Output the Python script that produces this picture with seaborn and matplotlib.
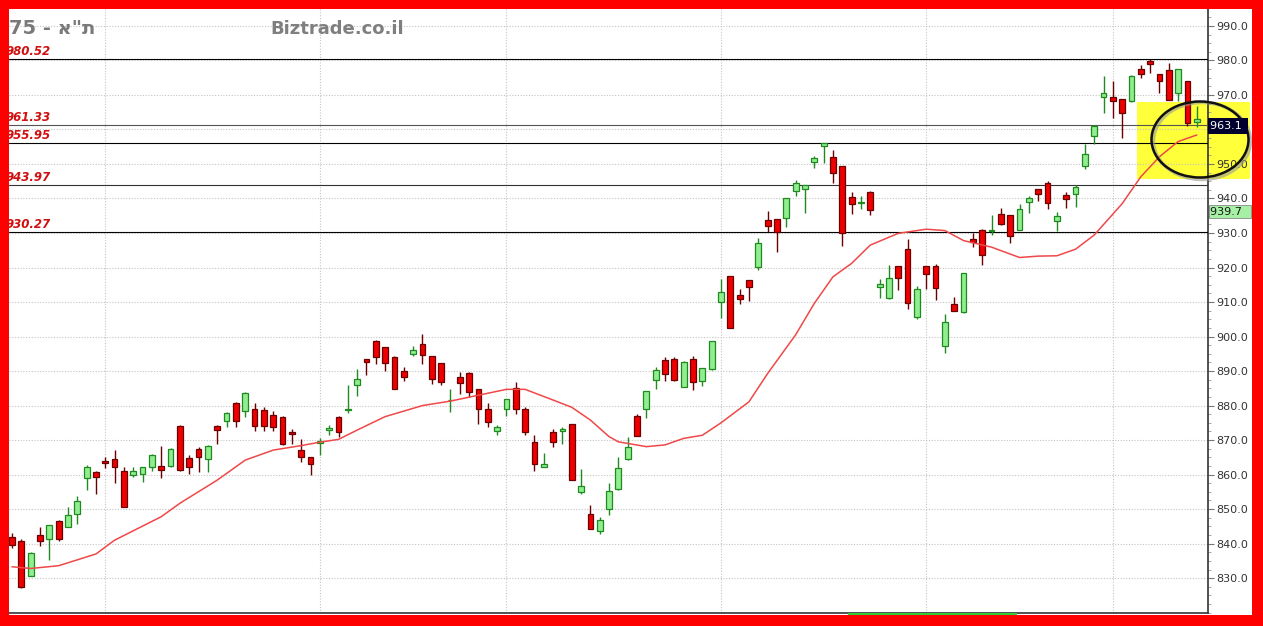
import numpy as np
import matplotlib
matplotlib.use("Agg")
import matplotlib.pyplot as plt
import matplotlib.transforms as mtransforms
from matplotlib.patches import Rectangle, Ellipse
from matplotlib.ticker import MultipleLocator, FixedLocator, FixedFormatter
import seaborn as sns

# daily candles, TA-75 index
opens = [841.8, 840.7, 830.7, 842.4, 841.2, 846.7, 844.9, 848.5, 858.9, 860.8,
         863.9, 864.6, 861.1, 859.8, 860.3, 862.3, 862.5, 862.5, 874.1, 864.9,
         867.5, 864.4, 874.1, 875.6, 880.6, 878.4, 879.1, 878.7, 877.2, 876.8,
         872.2, 867.1, 865.0, 869.2, 872.9, 876.8, 878.7, 885.9, 893.4, 898.8,
         896.9, 894.2, 890.1, 894.9, 897.7, 894.3, 892.2, 881.5, 888.2, 889.5,
         884.8, 879.1, 872.6, 879.1, 885.2, 878.9, 869.3, 862.3, 872.4, 872.6,
         874.6, 855.0, 848.6, 843.6, 849.9, 855.8, 864.5, 877.0, 878.9, 887.4,
         893.2, 893.4, 885.5, 893.5, 887.1, 890.6, 909.9, 917.5, 912.0, 916.4,
         920.2, 933.8, 934.0, 934.3, 942.2, 942.7, 950.7, 955.2, 952.0, 949.4,
         940.5, 938.8, 942.0, 914.4, 911.1, 920.4, 925.3, 905.7, 920.4, 920.4,
         897.3, 909.3, 907.0, 928.3, 931.0, 930.6, 935.5, 935.2, 930.9, 939.1,
         942.7, 944.6, 933.5, 941.0, 941.3, 949.5, 958.1, 969.5, 969.5, 968.8,
         968.1, 977.4, 979.9, 976.1, 977.2, 970.7, 973.9, 962.2]
highs = [843.0, 841.2, 837.6, 844.9, 845.5, 846.9, 850.5, 853.8, 862.8, 861.0,
         865.0, 867.1, 862.3, 862.3, 862.3, 866.0, 868.3, 867.6, 874.3, 865.7,
         868.0, 868.6, 874.3, 878.1, 881.0, 884.0, 880.6, 879.5, 878.5, 876.9,
         873.1, 870.2, 865.2, 870.5, 874.5, 877.0, 886.1, 890.6, 893.5, 898.9,
         897.0, 894.3, 891.2, 897.2, 900.7, 894.4, 892.3, 884.7, 889.8, 889.6,
         884.9, 880.6, 874.5, 882.0, 886.7, 879.6, 871.4, 866.4, 873.1, 873.9,
         874.7, 861.6, 851.2, 847.8, 857.6, 865.0, 870.8, 877.5, 884.2, 891.2,
         894.0, 894.0, 892.8, 894.5, 890.9, 898.8, 916.6, 917.6, 913.7, 916.5,
         928.5, 936.4, 934.1, 940.1, 945.4, 944.0, 952.3, 956.1, 954.1, 949.5,
         942.0, 940.7, 942.1, 916.6, 920.7, 920.5, 928.2, 914.7, 920.5, 920.9,
         906.5, 911.4, 918.4, 929.9, 931.1, 935.2, 937.3, 935.3, 938.3, 940.8,
         942.8, 945.1, 936.2, 941.8, 943.9, 955.8, 961.2, 975.5, 974.1, 968.9,
         975.7, 978.7, 980.3, 976.2, 979.2, 977.5, 974.0, 966.8]
lows = [838.6, 827.0, 830.5, 839.4, 835.4, 840.8, 844.7, 845.6, 855.5, 854.3,
        861.8, 857.5, 850.5, 859.2, 857.9, 861.0, 858.9, 862.3, 861.0, 860.1,
        860.8, 860.8, 868.8, 873.7, 873.7, 876.8, 872.7, 872.7, 872.7, 868.7,
        868.8, 863.7, 859.9, 865.7, 871.4, 871.0, 877.9, 882.8, 888.8, 892.0,
        890.1, 884.7, 887.2, 894.3, 891.9, 886.2, 886.0, 878.2, 883.3, 882.4,
        874.8, 873.7, 871.4, 877.0, 877.5, 871.4, 861.0, 862.1, 867.9, 869.0,
        858.3, 854.5, 844.1, 842.9, 848.3, 855.5, 864.3, 871.2, 876.3, 884.8,
        887.1, 887.2, 885.3, 884.5, 885.6, 890.4, 905.3, 902.5, 909.3, 910.4,
        919.3, 930.4, 924.4, 931.7, 940.7, 935.9, 948.9, 950.2, 944.4, 926.2,
        935.5, 936.9, 935.2, 911.1, 911.0, 913.5, 907.9, 905.0, 913.7, 910.6,
        895.1, 907.4, 906.9, 925.9, 920.7, 929.4, 932.4, 927.2, 930.8, 935.7,
        939.4, 936.9, 930.7, 937.2, 937.5, 948.6, 955.8, 964.9, 963.4, 957.4,
        968.0, 974.8, 976.5, 970.7, 968.5, 968.1, 961.0, 960.8]
closes = [839.6, 827.3, 837.4, 840.9, 845.3, 841.4, 848.3, 852.4, 862.1, 859.4,
          863.4, 862.3, 850.7, 861.0, 862.1, 865.7, 861.3, 867.3, 861.3, 862.3,
          865.2, 868.3, 872.9, 877.9, 875.6, 883.6, 874.1, 874.1, 873.7, 869.0,
          871.7, 865.0, 863.2, 869.8, 873.4, 872.2, 879.1, 887.6, 892.7, 894.0,
          892.2, 884.8, 888.3, 896.1, 894.6, 887.8, 886.7, 881.7, 886.4, 884.0,
          879.1, 875.1, 873.7, 881.9, 878.9, 872.4, 863.0, 863.0, 869.3, 873.1,
          858.4, 856.8, 844.2, 846.8, 855.3, 861.8, 867.9, 871.3, 884.2, 890.3,
          889.1, 887.4, 892.7, 886.9, 890.8, 898.7, 912.8, 902.6, 910.9, 914.3,
          927.0, 932.0, 930.4, 940.0, 944.6, 943.9, 951.6, 956.0, 947.3, 930.1,
          938.3, 939.1, 936.7, 915.2, 916.9, 916.9, 909.6, 913.7, 918.1, 914.0,
          904.3, 907.5, 918.3, 927.5, 923.6, 931.0, 932.5, 929.2, 936.9, 940.0,
          941.3, 938.6, 934.9, 939.8, 943.4, 952.9, 961.1, 970.7, 968.3, 964.7,
          975.6, 976.1, 978.9, 974.1, 968.6, 977.4, 961.8, 963.0]

# moving average, sampled at candle positions
ma_idx = [0, 2, 5, 9, 11, 16, 18, 22, 25, 28, 31, 33, 35, 37, 40, 44, 47, 50,
          53, 55, 58, 60, 62, 64, 65, 68, 70, 72, 74, 76, 79, 81, 84, 86, 88,
          90, 92, 95, 98, 100, 102, 105, 108, 110, 112, 114, 116, 119, 121,
          123, 125, 127]
ma_val = [833.3, 832.8, 833.6, 837.0, 841.0, 847.8, 851.7, 858.4, 864.2, 867.1,
          868.4, 869.4, 870.2, 872.9, 876.8, 880.0, 881.3, 883.0, 884.7, 884.7,
          881.6, 879.5, 875.8, 871.0, 869.5, 868.1, 868.6, 870.5, 871.4, 875.0,
          881.1, 889.3, 900.5, 909.6, 917.3, 921.2, 926.5, 929.9, 931.1, 930.7,
          927.8, 925.9, 922.9, 923.3, 923.4, 925.3, 929.4, 938.5, 946.3, 952.1,
          956.5, 958.4]

levels = [980.52, 961.33, 955.95, 943.97, 930.27]
level_colors = ["#000000", "#555555", "#000000", "#333333", "#000000"]
y_ticks = [830, 840, 850, 860, 870, 880, 890, 900, 910, 920, 930, 940, 950, 960, 970, 980, 990]
y_tick_labels = ["830.0", "840.0", "850.0", "860.0", "870.0", "880.0", "890.0", "900.0",
                 "910.0", "920.0", "930.0", "940.0", "950.0", "", "970.0", "980.0", "990.0"]
month_ticks = [10, 33, 53, 76, 98, 118]
last_price = 963.1
prev_price = 939.7

sns.set_style("white")
plt.rcParams["font.family"] = ["DejaVu Sans"]

W, H = 1263, 626
fig = plt.figure(figsize=(W / 100, H / 100), dpi=100)
fig.patch.set_facecolor("white")
ax = fig.add_axes([9 / W, (H - 613) / H, (1208 - 9) / W, (613 - 9) / H])
ax.set_facecolor("white")

# yellow highlight behind the last candles (figure pixels)
ax.add_patch(Rectangle((1137, H - 179), 113, 77, transform=mtransforms.IdentityTransform(),
                       facecolor="#ffff3a", edgecolor="none", zorder=0.5, clip_on=False))

x = np.arange(len(opens))
o = np.array(opens); c = np.array(closes)
up = c >= o
body_w = 0.62
for m, fill, edge in [(up, "#90ee90", "#1f8a1f"), (~up, "#ee0000", "#6a0000")]:
    ax.vlines(x[m], np.array(lows)[m], np.array(highs)[m], color=edge, lw=1, zorder=3)
    bottom = np.minimum(o, c)[m]
    height = np.maximum(np.abs(c - o)[m], 0.15)
    ax.bar(x[m], height, bottom=bottom, width=body_w, color=fill, edgecolor=edge,
           linewidth=0.9, zorder=4)

sns.lineplot(x=ma_idx, y=ma_val, ax=ax, color="#f04848", lw=1.1, zorder=5)

for v, col in zip(levels, level_colors):
    ax.axhline(v, color=col, lw=0.8, zorder=2.6)
    ax.annotate(f"{v:.2f}", xy=(0, v), xycoords=("axes fraction", "data"),
                xytext=(-3, 4), textcoords="offset pixels", ha="left", va="baseline",
                color="#d01010", fontsize=8.5, fontweight="bold", fontstyle="italic")

ax.set_xlim(-0.32, 128.2)
ax.set_ylim(819.9, 994.9)
ax.set_xticks(month_ticks)
ax.set_xticklabels([])
ax.tick_params(axis="x", length=0)
ax.yaxis.tick_right()
ax.yaxis.set_major_locator(FixedLocator(y_ticks))
ax.yaxis.set_major_formatter(FixedFormatter(y_tick_labels))
ax.yaxis.set_minor_locator(MultipleLocator(2.5))
ax.tick_params(axis="y", which="major", length=4, width=0.8, color="#777777",
               labelsize=8, labelcolor="#333333", pad=2, direction="out")
ax.tick_params(axis="y", which="minor", length=2, width=0.6, color="#999999", direction="out")
ax.grid(True, which="major", linestyle=(0, (1, 1.5)), color="#c4c4c4", lw=0.8)
ax.set_axisbelow(True)
for s in ["top", "left"]:
    ax.spines[s].set_visible(False)
for s in ["right", "bottom"]:
    ax.spines[s].set_color("#333333")
    ax.spines[s].set_linewidth(1.2)
ax.set_xlabel("")
ax.set_ylabel("")

# price boxes on the right axis; the last-price box sits over the 960 tick
blend = mtransforms.blended_transform_factory(ax.transAxes, ax.transData)
ax.text(1.002, last_price - 2.1, f"{last_price:.1f} ", transform=blend, ha="left", va="center",
        fontsize=8, color="white", zorder=7,
        bbox=dict(facecolor="#00002e", edgecolor="none", boxstyle="square,pad=0.25"))
ax.text(1.002, prev_price - 3.5, f"{prev_price:.1f}  ", transform=blend, ha="left", va="center",
        fontsize=8, color="#1a1a1a", zorder=7,
        bbox=dict(facecolor="#a6f0a6", edgecolor="#888888", linewidth=0.6,
                  boxstyle="square,pad=0.15"))

# circle around the last candles
pix = mtransforms.IdentityTransform()
ax.add_patch(Ellipse((1202, H - 141), 97, 77, transform=pix, facecolor="none",
                     edgecolor="#999999", lw=2.5, alpha=0.6, zorder=6, clip_on=False))
ax.add_patch(Ellipse((1200, H - 139.5), 97, 76, transform=pix, facecolor="none",
                     edgecolor="#111111", lw=1.8, zorder=6.5, clip_on=False))

fig.text(9 / W, 1 - 34 / H, '75 - א"ת', fontsize=14, fontweight="bold",
         color="#7a7a7a", ha="left", va="baseline")
fig.text(270 / W, 1 - 34 / H, "Biztrade.co.il", fontsize=13, fontweight="bold",
         color="#7f7f7f", ha="left", va="baseline")

# green date strip and red frame
fig.patches.append(Rectangle((848 / W, (H - 616) / H), 169 / W, 3 / H, transform=fig.transFigure,
                             facecolor="#33cc33", edgecolor="none", zorder=9))
for rx, ry, rw, rh in [(0, 0, W, 11), (0, H - 9, W, 9), (0, 0, 9, H), (1252, 0, 11, H)]:
    fig.patches.append(Rectangle((rx / W, ry / H), rw / W, rh / H, transform=fig.transFigure,
                                 facecolor="#ff0000", edgecolor="none", zorder=10))

fig.savefig("out.png", dpi=100)
